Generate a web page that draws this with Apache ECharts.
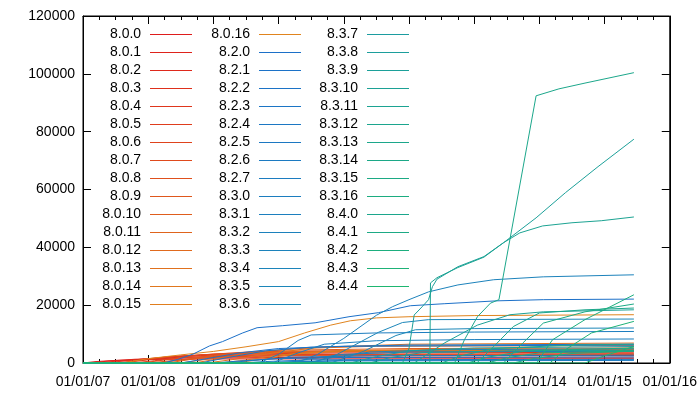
<!DOCTYPE html>
<html>
<head>
<meta charset="utf-8">
<script src="https://cdn.jsdelivr.net/npm/echarts@6/dist/echarts.min.js"></script>
<style>
  html, body { margin: 0; padding: 0; background: #fff; }
  #chart { width: 700px; height: 400px; }
</style>
</head>
<body>
<div id="chart"></div>
<script>
// release names (legend order)
var names80 = ['8.0.0', '8.0.1', '8.0.2', '8.0.3', '8.0.4', '8.0.5', '8.0.6', '8.0.7', '8.0.8',
  '8.0.9', '8.0.10', '8.0.11', '8.0.12', '8.0.13', '8.0.14', '8.0.15', '8.0.16'];
var names82 = ['8.2.0', '8.2.1', '8.2.2', '8.2.3', '8.2.4', '8.2.5', '8.2.6', '8.2.7'];
var names83 = ['8.3.0', '8.3.1', '8.3.2', '8.3.3', '8.3.4', '8.3.5', '8.3.6', '8.3.7', '8.3.8',
  '8.3.9', '8.3.10', '8.3.11', '8.3.12', '8.3.13', '8.3.14', '8.3.15', '8.3.16'];
var names84 = ['8.4.0', '8.4.1', '8.4.2', '8.4.3', '8.4.4'];

// cumulative count per release: [year, count], zero until it shows up
var curves80 = [
  [[2007.0, 0], [2007.2, 500], [2007.5, 900], [2008.0, 1200], [2009.0, 1400], [2015.45, 1500]],
  [[2007.0, 0], [2007.1, 0], [2007.4, 700], [2007.8, 1300], [2008.5, 1700], [2010.0, 1900], [2015.45, 2000]],
  [[2007.0, 0], [2007.2, 0], [2007.5, 600], [2008.0, 1500], [2008.6, 2100], [2010.0, 2400], [2015.45, 2600]],
  [[2007.0, 0], [2007.35, 0], [2007.7, 900], [2008.2, 1900], [2008.8, 2600], [2010.5, 3000], [2015.45, 3200]],
  [[2007.0, 0], [2007.5, 0], [2007.9, 1000], [2008.3, 2200], [2009.0, 3000], [2011.0, 3500], [2015.45, 3700]],
  [[2007.0, 0], [2007.6, 0], [2008.0, 1100], [2008.5, 2400], [2009.2, 3300], [2011.0, 3900], [2015.45, 4000]],
  [[2007.0, 0], [2007.75, 0], [2008.1, 800], [2008.5, 1800], [2009.3, 2600], [2011.0, 3000], [2015.45, 3100]],
  [[2007.0, 0], [2007.9, 0], [2008.3, 1200], [2008.8, 2800], [2009.6, 3900], [2011.5, 4400], [2015.45, 4600]],
  [[2007.0, 0], [2008.0, 0], [2008.4, 900], [2009.0, 2000], [2010.0, 2600], [2015.45, 2900]],
  [[2007.0, 0], [2008.15, 0], [2008.5, 1000], [2009.0, 2600], [2009.8, 3600], [2011.5, 4100], [2015.45, 4300]],
  [[2007.0, 0], [2008.3, 0], [2008.7, 1400], [2009.2, 3100], [2010.0, 4400], [2012.0, 5000], [2015.45, 5200]],
  [[2007.0, 0], [2008.5, 0], [2008.9, 1300], [2009.5, 3000], [2010.3, 4000], [2012.0, 4400], [2015.45, 4500]],
  [[2007.0, 0], [2008.7, 0], [2009.1, 1500], [2009.6, 3500], [2010.3, 5000], [2011.5, 5800], [2015.45, 6000]],
  [[2007.0, 0], [2008.9, 0], [2009.3, 1200], [2009.9, 3400], [2010.6, 5400], [2012.0, 6500], [2015.45, 6900]],
  [[2007.0, 0], [2009.1, 0], [2009.5, 1000], [2010.0, 2800], [2010.6, 3800], [2012.0, 4300], [2015.45, 4500]],
  [[2007.0, 0], [2009.3, 0], [2009.7, 1100], [2010.2, 3000], [2011.0, 4300], [2013.0, 4800], [2015.45, 4900]],
  [[2007.0, 0], [2007.6, 0], [2008.0, 1500], [2008.5, 2800], [2009.0, 4000], [2009.5, 5600], [2010.0, 7400],
    [2010.4, 10400], [2010.8, 13100], [2011.1, 14600], [2011.5, 15600], [2012.0, 16000], [2013.0, 16400], [2015.45, 16700]]
];
var curves82 = [
  [[2007.0, 0], [2008.23, 0], [2008.45, 1200], [2008.69, 3100], [2008.94, 5900], [2009.14, 7400], [2009.45, 10400],
    [2009.67, 12200], [2010.06, 12900], [2010.56, 13900], [2011.08, 16000], [2011.53, 17400], [2012.02, 19800],
    [2012.54, 20500], [2013.35, 21500], [2014.06, 21900], [2015.45, 22100]],
  [[2007.0, 0], [2008.5, 0], [2008.9, 1500], [2009.4, 3500], [2010.0, 5000], [2011.0, 5800], [2015.45, 6200]],
  [[2007.0, 0], [2008.8, 0], [2009.2, 1800], [2009.8, 4200], [2010.5, 5500], [2012.0, 6200], [2015.45, 6500]],
  [[2007.0, 0], [2009.0, 0], [2009.4, 700], [2010.0, 1500], [2011.0, 1900], [2015.45, 2100]],
  [[2007.0, 0], [2009.2, 0], [2009.6, 900], [2010.2, 2000], [2011.5, 2500], [2015.45, 2700]],
  [[2007.0, 0], [2009.4, 0], [2009.8, 500], [2010.5, 1100], [2015.45, 1300]],
  [[2007.0, 0], [2009.6, 0], [2010.0, 300], [2011.0, 700], [2015.45, 900]],
  [[2007.0, 0], [2009.8, 0], [2010.2, 400], [2011.0, 900], [2015.45, 1100]]
];
var curves83 = [
  [[2007.0, 0], [2009.7, 0], [2010.0, 3000], [2010.3, 7800], [2010.5, 9700], [2011.5, 10400], [2013.0, 10700], [2015.45, 10900]],
  [[2007.0, 0], [2009.9, 0], [2010.3, 3500], [2010.7, 6500], [2011.5, 7700], [2013.0, 8100], [2015.45, 8300]],
  [[2007.0, 0], [2010.1, 0], [2010.5, 1500], [2011.0, 3000], [2012.0, 3800], [2015.45, 4100]],
  [[2007.0, 0], [2010.26, 0], [2010.6, 3000], [2011.0, 8500], [2011.5, 16500], [2011.75, 19500], [2012.0, 21900],
    [2012.3, 24600], [2012.75, 27000], [2013.3, 28800], [2014.06, 29800], [2015.45, 30500]],
  [[2007.0, 0], [2010.45, 0], [2010.8, 1800], [2011.4, 3800], [2012.5, 4600], [2015.45, 4900]],
  [[2007.0, 0], [2010.5, 0], [2010.9, 3000], [2011.53, 10600], [2011.9, 14000], [2012.3, 15000], [2015.45, 15200]],
  [[2007.0, 0], [2010.8, 0], [2011.3, 4000], [2011.8, 9500], [2012.1, 11500], [2013.0, 11900], [2015.45, 12100]],
  [[2007.0, 0], [2011.1, 0], [2011.5, 2200], [2012.0, 4200], [2013.0, 5200], [2015.45, 5700]],
  [[2007.0, 0], [2011.4, 0], [2011.7, 1800], [2012.2, 3600], [2013.5, 4200], [2015.45, 4400]],
  [[2007.0, 0], [2011.9, 0], [2012.0, 5000], [2012.08, 16600], [2012.2, 19400], [2012.3, 21900], [2012.36, 26400],
    [2012.43, 29000], [2012.75, 33300], [2013.15, 36800], [2013.45, 41600], [2013.95, 50200], [2014.4, 58900],
    [2014.9, 67900], [2015.45, 77400]],
  [[2007.0, 0], [2012.08, 0], [2012.55, 7000], [2013.05, 13100], [2013.55, 16700], [2014.06, 17700], [2015.45, 18400]],
  [[2007.0, 0], [2012.32, 0], [2012.33, 27700], [2012.43, 29500], [2012.75, 33000], [2013.15, 36600], [2013.45, 41600],
    [2013.7, 45000], [2014.05, 47400], [2014.5, 48500], [2014.95, 49200], [2015.45, 50500]],
  [[2007.0, 0], [2012.5, 0], [2012.8, 2500], [2013.3, 5000], [2014.5, 6200], [2015.45, 6500]],
  [[2007.0, 0], [2012.7, 0], [2012.85, 8000], [2013.05, 16000], [2013.25, 20700], [2013.38, 21900], [2013.95, 92400],
    [2014.3, 94800], [2014.7, 96800], [2015.45, 100400]],
  [[2007.0, 0], [2012.9, 0], [2013.2, 2000], [2013.8, 4200], [2015.45, 5200]],
  [[2007.0, 0], [2013.2, 0], [2013.5, 1800], [2014.0, 3500], [2015.45, 4200]],
  [[2007.0, 0], [2013.6, 0], [2013.9, 1500], [2014.5, 3300], [2015.45, 4100]]
];
var curves84 = [
  [[2007.0, 0], [2013.04, 0], [2013.3, 5700], [2013.6, 12600], [2014.0, 17300], [2014.7, 18400], [2015.45, 19000]],
  [[2007.0, 0], [2013.45, 0], [2013.75, 7000], [2014.06, 13800], [2014.7, 17700], [2015.45, 20400]],
  [[2007.0, 0], [2013.96, 0], [2014.2, 8000], [2014.7, 15000], [2015.45, 23600]],
  [[2007.0, 0], [2014.16, 0], [2014.4, 4600], [2014.8, 10400], [2015.45, 14400]],
  [[2007.0, 0], [2014.7, 0], [2015.0, 2500], [2015.45, 5700]]
];

var yearMin = 2007, yearMax = 2016;
var countMax = 120000, countStep = 20000;

var FONT = '"Liberation Sans", Arial, sans-serif';

function mix(a, b, t) {
  return 'rgb(' + a.map(function (v, i) { return Math.round(v + (b[i] - v) * t); }).join(',') + ')';
}

var names = [], curves = [], colors = [];
names80.forEach(function (n, i) {
  names.push(n); curves.push(curves80[i]);
  colors.push(mix([222, 28, 28], [224, 132, 30], i / (names80.length - 1)));
});
var cool = names82.concat(names83);
var coolCurves = curves82.concat(curves83);
cool.forEach(function (n, i) {
  names.push(n); curves.push(coolCurves[i]);
  colors.push(mix([28, 112, 200], [28, 152, 172], i / (cool.length - 1)));
});
names84.forEach(function (n, i) {
  names.push(n); curves.push(curves84[i]);
  colors.push(mix([28, 166, 140], [30, 182, 112], i / (names84.length - 1)));
});
// late 8.3 releases drift from blue-teal towards teal-green
names.forEach(function (n, i) {
  var k = names83.indexOf(n);
  if (k >= 7) colors[i] = mix([28, 156, 160], [28, 172, 128], (k - 7) / 9);
});

var series = names.map(function (n, i) {
  return {
    name: n,
    type: 'line',
    symbol: 'none',
    data: curves[i],
    color: colors[i],
    lineStyle: { width: 1, color: colors[i] },
    emphasis: { disabled: true }
  };
});
// empty series so the mirror axes (top / right) get drawn too
series.push({ type: 'line', xAxisIndex: 1, yAxisIndex: 1, data: [], silent: true });

// key laid out in three columns like the original
var col1 = names.slice(0, 16);
var col2 = names.slice(16, 32);
var col3 = names.slice(32);
function key(data, right) {
  return {
    data: data,
    orient: 'vertical',
    align: 'right',
    right: right,
    top: 27.5,
    padding: 0,
    icon: 'rect',
    itemWidth: 42,
    itemHeight: 1,
    itemGap: 4,
    selectedMode: false,
    formatter: function (name) { return name + ' '; },
    textStyle: { fontSize: 14, fontFamily: FONT, color: '#000' }
  };
}

var xBase = {
  type: 'value', min: yearMin, max: yearMax, interval: 1, show: true,
  axisLine: { show: true, onZero: false, lineStyle: { color: '#000', width: 1 } },
  axisTick: { show: true, inside: true, length: 8, lineStyle: { color: '#000' } },
  minorTick: { show: true, splitNumber: 4, length: 4, lineStyle: { color: '#000' } },
  splitLine: { show: false }
};
var yBase = {
  type: 'value', min: 0, max: countMax, interval: countStep, show: true,
  axisLine: { show: true, onZero: false, lineStyle: { color: '#000', width: 1 } },
  axisTick: { show: true, inside: true, length: 8, lineStyle: { color: '#000' } },
  splitLine: { show: false }
};

var chart = echarts.init(document.getElementById('chart'), null, { renderer: 'canvas' });
chart.setOption({
  animation: false,
  backgroundColor: '#fff',
  grid: { left: 83, right: 26, top: 16, bottom: 37, show: true, borderColor: '#000', borderWidth: 1 },
  legend: [key(col1, 508), key(col2, 399), key(col3, 291)],
  xAxis: [
    Object.assign({}, xBase, {
      position: 'bottom',
      axisLabel: {
        margin: 12, fontSize: 14, fontFamily: FONT, color: '#000',
        formatter: function (v) { return '01/01/' + String(v).slice(2); }
      }
    }),
    Object.assign({}, xBase, { position: 'top', axisLabel: { show: false } })
  ],
  yAxis: [
    Object.assign({}, yBase, {
      position: 'left',
      axisLabel: { margin: 8, fontSize: 14, fontFamily: FONT, color: '#000',
        formatter: function (v) { return String(v); } }
    }),
    Object.assign({}, yBase, { position: 'right', axisLabel: { show: false } })
  ],
  series: series
});
</script>
</body>
</html>
